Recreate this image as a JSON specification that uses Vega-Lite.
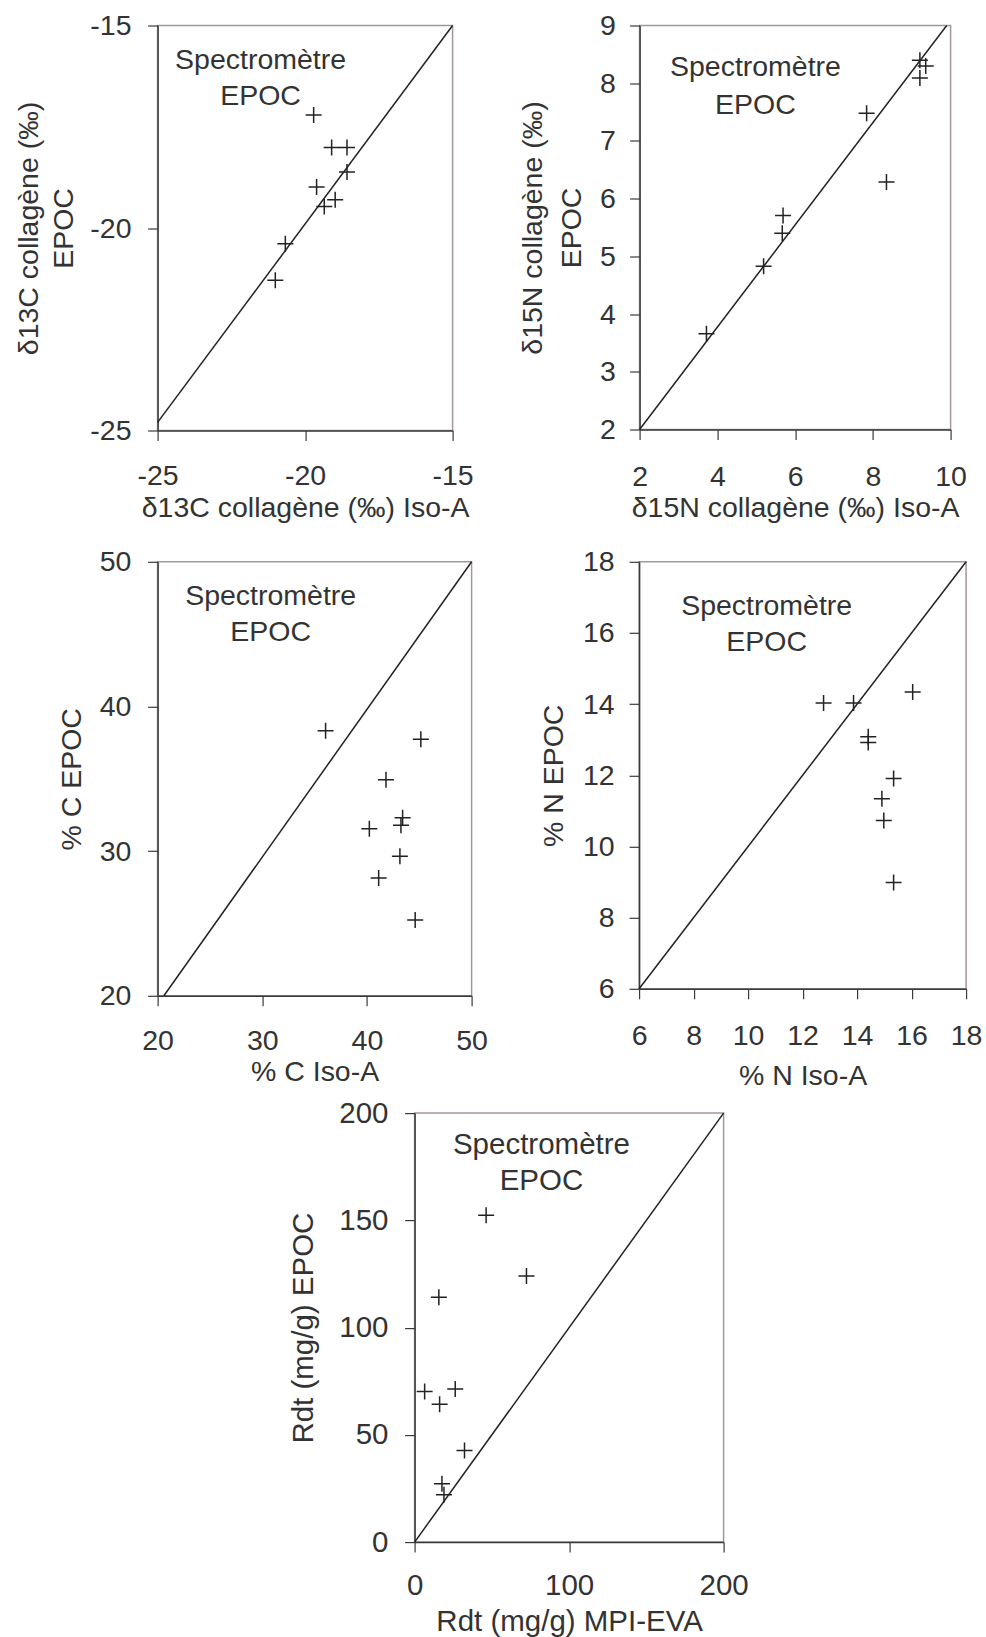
{
  "$schema": "https://vega.github.io/schema/vega-lite/v6.json",
  "padding": {"left": 13.6, "top": 10.5, "right": 0, "bottom": 0},
  "background": "white",
  "config": {
    "font": "Liberation Sans",
    "view": {"stroke": "#a39797", "strokeWidth": 1.5},
    "axis": {
      "grid": false,
      "domainColor": "#3a3a3a",
      "domainWidth": 1.5,
      "tickColor": "#3a3a3a",
      "tickWidth": 1.2,
      "tickSize": 10,
      "labelFont": "Liberation Sans",
      "labelFontSize": 28.5,
      "labelColor": "#333333",
      "labelFlush": false,
      "labelOverlap": false,
      "labelExpr": "replace(datum.label, '−', '-')",
      "titleFont": "Liberation Sans",
      "titleFontSize": 28.5,
      "titleFontWeight": "normal",
      "titleColor": "#333333"
    },
    "text": {"font": "Liberation Sans", "color": "#333333"}
  },
  "vconcat": [
    {
      "hconcat": [
        {
          "width": 295,
          "height": 405,
          "encoding": {
            "x": {"field": "x", "type": "quantitative", "scale": {"domain": [-25, -15], "nice": false, "zero": false},
              "axis": {"values": [-25, -20, -15], "title": ["δ13C collagène (‰) Iso-A", ""], "titleLineHeight": 17.6, "labelPadding": 21, "titlePadding": 3}},
            "y": {"field": "y", "type": "quantitative", "scale": {"domain": [-25, -15], "nice": false, "zero": false},
              "axis": {"values": [-25, -20, -15], "title": ["δ13C collagène (‰)", "EPOC"], "titleLineHeight": 35, "labelPadding": 16.6, "titlePadding": 11}}
          },
          "layer": [
            {"data": {"values": [{"x": -25, "y": -24.8}, {"x": -15, "y": -15}]},
             "mark": {"type": "line", "color": "#222222", "strokeWidth": 1.5}, "encoding": {}},
            {"data": {"values": [
              {"x": -19.71, "y": -17.21}, {"x": -19.10, "y": -18.01}, {"x": -18.58, "y": -18.01},
              {"x": -18.58, "y": -18.62}, {"x": -19.61, "y": -18.99}, {"x": -18.98, "y": -19.30},
              {"x": -19.35, "y": -19.47}, {"x": -20.67, "y": -20.39}, {"x": -21.01, "y": -21.29}]},
             "mark": {"type": "point", "shape": "M-1,0L1,0M0,-1L0,1", "filled": false, "size": 256, "color": "#222222", "strokeWidth": 1.5, "opacity": 1}},
            {"data": {"values": [{"x": -21.51, "y": -15.86, "t": "Spectromètre"}, {"x": -21.51, "y": -16.75, "t": "EPOC"}]},
             "mark": {"type": "text", "fontSize": 28.5, "align": "center", "baseline": "middle"},
             "encoding": {"text": {"field": "t"}}}
          ]
        },
        {
          "width": 311,
          "height": 404,
          "encoding": {
            "x": {"field": "x", "type": "quantitative", "scale": {"domain": [2, 10], "nice": false, "zero": false},
              "axis": {"values": [2, 4, 6, 8, 10], "title": ["δ15N collagène (‰) Iso-A", ""], "titleLineHeight": 17.6, "labelPadding": 23, "titlePadding": 2}},
            "y": {"field": "y", "type": "quantitative", "scale": {"domain": [2, 9], "nice": false, "zero": false},
              "axis": {"values": [2, 3, 4, 5, 6, 7, 8, 9], "title": ["δ15N collagène (‰)", "EPOC"], "titleLineHeight": 39, "labelPadding": 14.3, "titlePadding": 12.7}}
          },
          "layer": [
            {"data": {"values": [{"x": 2, "y": 2}, {"x": 9.9, "y": 9}]},
             "mark": {"type": "line", "color": "#222222", "strokeWidth": 1.5}, "encoding": {}},
            {"data": {"values": [
              {"x": 9.21, "y": 8.40}, {"x": 9.36, "y": 8.30}, {"x": 9.21, "y": 8.09},
              {"x": 7.84, "y": 7.48}, {"x": 8.35, "y": 6.29}, {"x": 5.69, "y": 5.71},
              {"x": 5.67, "y": 5.40}, {"x": 5.19, "y": 4.83}, {"x": 3.72, "y": 3.66}]},
             "mark": {"type": "point", "shape": "M-1,0L1,0M0,-1L0,1", "filled": false, "size": 256, "color": "#222222", "strokeWidth": 1.5, "opacity": 1}},
            {"data": {"values": [{"x": 4.98, "y": 8.28, "t": "Spectromètre"}, {"x": 4.98, "y": 7.62, "t": "EPOC"}]},
             "mark": {"type": "text", "fontSize": 28.5, "align": "center", "baseline": "middle"},
             "encoding": {"text": {"field": "t"}}}
          ]
        }
      ],
      "spacing": 187,
      "bounds": "flush",
      "align": "each"
    },
    {
      "hconcat": [
        {
          "width": 314,
          "height": 434,
          "encoding": {
            "x": {"field": "x", "type": "quantitative", "scale": {"domain": [20, 50], "nice": false, "zero": false},
              "axis": {"values": [20, 30, 40, 50], "title": "% C Iso-A", "labelPadding": 20.9, "titlePadding": 2}},
            "y": {"field": "y", "type": "quantitative", "scale": {"domain": [20, 50], "nice": false, "zero": false},
              "axis": {"values": [20, 30, 40, 50], "title": "% C EPOC", "labelPadding": 16.7, "titlePadding": 12.4}}
          },
          "layer": [
            {"data": {"values": [{"x": 20.6, "y": 20}, {"x": 50, "y": 50}]},
             "mark": {"type": "line", "color": "#222222", "strokeWidth": 1.5}, "encoding": {}},
            {"data": {"values": [
              {"x": 36.05, "y": 38.33}, {"x": 45.15, "y": 37.74}, {"x": 41.82, "y": 34.93},
              {"x": 43.41, "y": 32.31}, {"x": 43.25, "y": 31.79}, {"x": 40.23, "y": 31.55},
              {"x": 43.15, "y": 29.64}, {"x": 41.12, "y": 28.14}, {"x": 44.61, "y": 25.24}]},
             "mark": {"type": "point", "shape": "M-1,0L1,0M0,-1L0,1", "filled": false, "size": 256, "color": "#222222", "strokeWidth": 1.5, "opacity": 1}},
            {"data": {"values": [{"x": 30.8, "y": 47.62, "t": "Spectromètre"}, {"x": 30.8, "y": 45.12, "t": "EPOC"}]},
             "mark": {"type": "text", "fontSize": 28.5, "align": "center", "baseline": "middle"},
             "encoding": {"text": {"field": "t"}}}
          ]
        },
        {
          "width": 327,
          "height": 427,
          "encoding": {
            "x": {"field": "x", "type": "quantitative", "scale": {"domain": [6, 18], "nice": false, "zero": false},
              "axis": {"values": [6, 8, 10, 12, 14, 16, 18], "title": "% N Iso-A", "labelPadding": 22.4, "titlePadding": 11.8}},
            "y": {"field": "y", "type": "quantitative", "scale": {"domain": [6, 18], "nice": false, "zero": false},
              "axis": {"values": [6, 8, 10, 12, 14, 16, 18], "title": "% N EPOC", "labelPadding": 15, "titlePadding": 13.9}}
          },
          "layer": [
            {"data": {"values": [{"x": 6, "y": 6}, {"x": 18, "y": 18}]},
             "mark": {"type": "line", "color": "#222222", "strokeWidth": 1.5}, "encoding": {}},
            {"data": {"values": [
              {"x": 12.77, "y": 14.03}, {"x": 13.87, "y": 14.03}, {"x": 16.04, "y": 14.34},
              {"x": 14.41, "y": 13.08}, {"x": 14.41, "y": 12.92}, {"x": 15.34, "y": 11.91},
              {"x": 14.91, "y": 11.34}, {"x": 14.98, "y": 10.73}, {"x": 15.34, "y": 8.99}]},
             "mark": {"type": "point", "shape": "M-1,0L1,0M0,-1L0,1", "filled": false, "size": 256, "color": "#222222", "strokeWidth": 1.5, "opacity": 1}},
            {"data": {"values": [{"x": 10.68, "y": 16.76, "t": "Spectromètre"}, {"x": 10.68, "y": 15.74, "t": "EPOC"}]},
             "mark": {"type": "text", "fontSize": 28.5, "align": "center", "baseline": "middle"},
             "encoding": {"text": {"field": "t"}}}
          ]
        }
      ],
      "spacing": 167.5,
      "bounds": "flush",
      "align": "each"
    },
    {
      "hconcat": [
        {
          "width": 236.5,
          "height": 10,
          "data": {"values": [{"t": ""}]},
          "mark": {"type": "text"},
          "encoding": {"text": {"field": "t"}},
          "view": {"stroke": null}
        },
        {
          "width": 309,
          "height": 429,
          "encoding": {
            "x": {"field": "x", "type": "quantitative", "scale": {"domain": [0, 200], "nice": false, "zero": false},
              "axis": {"values": [0, 100, 200], "title": "Rdt (mg/g) MPI-EVA", "labelFontSize": 29.5, "titleFontSize": 29.5, "labelPadding": 19.8, "titlePadding": 7.5}},
            "y": {"field": "y", "type": "quantitative", "scale": {"domain": [0, 200], "nice": false, "zero": false},
              "axis": {"values": [0, 50, 100, 150, 200], "title": "Rdt (mg/g) EPOC", "labelFontSize": 29.5, "titleFontSize": 29.5, "labelPadding": 16.6, "titlePadding": 20.3}}
          },
          "layer": [
            {"data": {"values": [{"x": 0, "y": 0}, {"x": 200, "y": 200}]},
             "mark": {"type": "line", "color": "#222222", "strokeWidth": 1.5}, "encoding": {}},
            {"data": {"values": [
              {"x": 46.3, "y": 152.4}, {"x": 72.4, "y": 124.1}, {"x": 15.7, "y": 114.1},
              {"x": 6.5, "y": 70.2}, {"x": 26.3, "y": 71.4}, {"x": 16.2, "y": 64.3},
              {"x": 32.3, "y": 42.7}, {"x": 17.7, "y": 27.2}, {"x": 19.0, "y": 22.1}]},
             "mark": {"type": "point", "shape": "M-1,0L1,0M0,-1L0,1", "filled": false, "size": 256, "color": "#222222", "strokeWidth": 1.5, "opacity": 1}},
            {"data": {"values": [{"x": 82.1, "y": 185.3, "t": "Spectromètre"}, {"x": 82.1, "y": 168.4, "t": "EPOC"}]},
             "mark": {"type": "text", "fontSize": 29.5, "align": "center", "baseline": "middle"},
             "encoding": {"text": {"field": "t"}}}
          ]
        }
      ],
      "spacing": 20,
      "bounds": "flush",
      "align": "each"
    }
  ],
  "spacing": 6.3,
  "align": "each"
}
